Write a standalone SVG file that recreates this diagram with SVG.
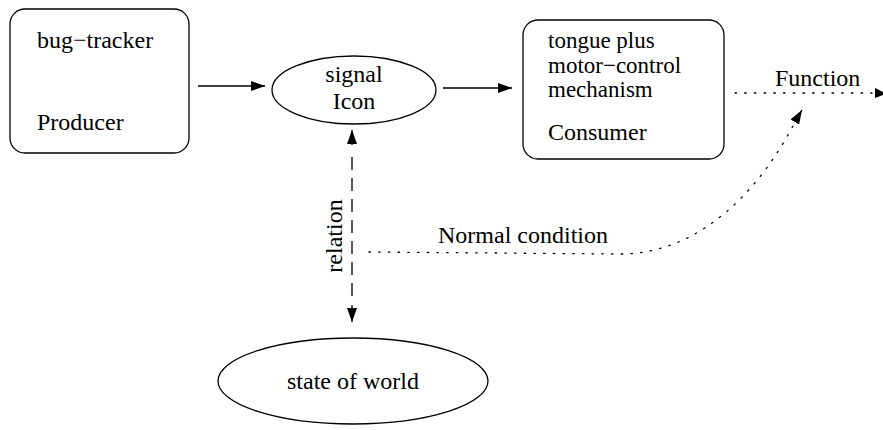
<svg xmlns="http://www.w3.org/2000/svg" width="883" height="430" viewBox="0 0 883 430" font-family="'Liberation Serif', 'Times New Roman', Times, serif" font-size="24">
<style>
.box{fill:#fff;stroke:#000;stroke-width:1.3}
.ln{fill:none;stroke:#000;stroke-width:1.3}
.dash{stroke-dasharray:13,8}
.dot{stroke-dasharray:1.5,8.2;stroke-linecap:round}
.sm{font-size:23px}
</style>
<defs>
<marker id="ah" viewBox="0 0 14 10" refX="14" refY="5" markerWidth="14" markerHeight="10" markerUnits="userSpaceOnUse" orient="auto">
<path d="M0,0 L14,5 L0,10 z" fill="#000"/>
</marker>
</defs>
<rect width="883" height="430" fill="#fff"/>
<g id="producer">
<rect class="box" x="10" y="9" width="179" height="144" rx="15"/>
<text x="37" y="48">bug−tracker</text>
<text x="37" y="130">Producer</text>
</g>
<g id="icon">
<ellipse class="box" cx="354" cy="90" rx="82" ry="34"/>
<text x="354" y="82" text-anchor="middle">signal</text>
<text x="354" y="109" text-anchor="middle">Icon</text>
</g>
<g id="consumer">
<rect class="box" x="523" y="20" width="201" height="139" rx="15"/>
<text class="sm" x="548" y="48">tongue plus</text>
<text class="sm" x="548" y="72.5">motor−control</text>
<text class="sm" x="548" y="97">mechanism</text>
<text x="548" y="140">Consumer</text>
</g>
<g id="world">
<ellipse class="box" cx="353" cy="381" rx="135" ry="43"/>
<text x="353" y="389" text-anchor="middle">state of world</text>
</g>
<g id="connectors">
<line class="ln" x1="198" y1="86" x2="265" y2="86" marker-end="url(#ah)"/>
<line class="ln" x1="443" y1="88" x2="512" y2="88" marker-end="url(#ah)"/>
<line class="ln dash" x1="352" y1="157" x2="352" y2="304"/>
<line class="ln" x1="352" y1="145" x2="352" y2="130" marker-end="url(#ah)"/>
<line class="ln" x1="352" y1="305" x2="352" y2="322" marker-end="url(#ah)"/>
<line class="ln dot" x1="735" y1="93" x2="872" y2="93"/>
<path d="M875,88 L883,92 L883,95 L875,98 z" fill="#000"/>
<path class="ln dot" d="M369,252 L620,254 C700,254 760,190 795,122"/>
<line class="ln" x1="796" y1="120" x2="802" y2="110" marker-end="url(#ah)"/>
<text x="775" y="86">Function</text>
<text x="438" y="243">Normal condition</text>
<text transform="translate(342,236) rotate(-90)" text-anchor="middle">relation</text>
</g>
</svg>
